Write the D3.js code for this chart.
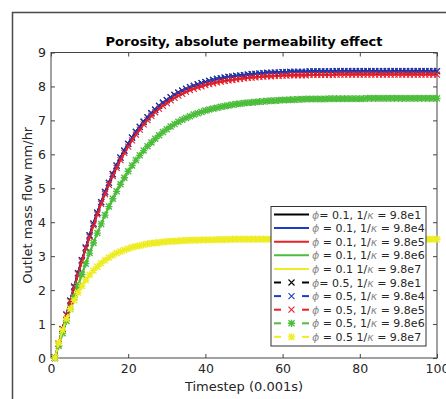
<!DOCTYPE html>
<html>
<head>
<meta charset="utf-8">
<script src="https://cdn.jsdelivr.net/npm/d3@7"></script>
<style>
  body { margin: 0; background: #fff; }
  svg { display: block; font-family: "DejaVu Sans", sans-serif; }
</style>
</head>
<body>
<svg id="chart" width="446" height="399"></svg>
<script>
// timesteps 1..100 (x values)
const timesteps = d3.range(1, 101);

// outlet mass flow, one value per timestep
const flowK1 = [
  0, 0.43, 0.85, 1.28, 1.69, 2.10, 2.50, 2.88, 3.25, 3.61,
  3.96, 4.28, 4.59, 4.89, 5.16, 5.42, 5.67, 5.90, 6.11, 6.31,
  6.49, 6.66, 6.81, 6.96, 7.09, 7.21, 7.32, 7.43, 7.52, 7.60,
  7.68, 7.75, 7.82, 7.88, 7.93, 7.98, 8.02, 8.06, 8.10, 8.13,
  8.16, 8.19, 8.22, 8.24, 8.26, 8.28, 8.29, 8.31, 8.32, 8.33,
  8.35, 8.36, 8.37, 8.38, 8.39, 8.40, 8.40, 8.41, 8.41, 8.42,
  8.42, 8.43, 8.43, 8.43, 8.43, 8.43, 8.44, 8.44, 8.44, 8.44,
  8.44, 8.44, 8.44, 8.45, 8.45, 8.45, 8.45, 8.45, 8.45, 8.45,
  8.45, 8.45, 8.45, 8.45, 8.45, 8.45, 8.45, 8.45, 8.45, 8.45,
  8.45, 8.45, 8.45, 8.45, 8.45, 8.45, 8.45, 8.45, 8.45, 8.45
];
const flowK4 = flowK1;
const flowK5 = [
  0, 0.42, 0.84, 1.26, 1.67, 2.07, 2.47, 2.85, 3.22, 3.57,
  3.91, 4.23, 4.54, 4.83, 5.10, 5.36, 5.60, 5.83, 6.04, 6.23,
  6.41, 6.58, 6.73, 6.88, 7.01, 7.13, 7.24, 7.34, 7.43, 7.51,
  7.59, 7.66, 7.73, 7.78, 7.84, 7.89, 7.93, 7.97, 8.00, 8.04,
  8.07, 8.09, 8.12, 8.14, 8.16, 8.18, 8.19, 8.21, 8.22, 8.24,
  8.25, 8.26, 8.27, 8.28, 8.29, 8.30, 8.30, 8.31, 8.31, 8.32,
  8.32, 8.33, 8.33, 8.33, 8.33, 8.33, 8.34, 8.34, 8.34, 8.34,
  8.34, 8.34, 8.34, 8.35, 8.35, 8.35, 8.35, 8.35, 8.35, 8.35,
  8.35, 8.35, 8.35, 8.35, 8.35, 8.35, 8.35, 8.35, 8.35, 8.35,
  8.35, 8.35, 8.35, 8.35, 8.35, 8.35, 8.35, 8.35, 8.35, 8.35
];
const flowK6 = [
  0, 0.36, 0.73, 1.09, 1.44, 1.79, 2.13, 2.46, 2.78, 3.09,
  3.39, 3.68, 3.95, 4.21, 4.46, 4.69, 4.91, 5.12, 5.31, 5.50,
  5.67, 5.83, 5.97, 6.11, 6.24, 6.35, 6.46, 6.56, 6.66, 6.74,
  6.82, 6.89, 6.96, 7.02, 7.07, 7.12, 7.17, 7.21, 7.25, 7.29,
  7.32, 7.35, 7.37, 7.40, 7.42, 7.44, 7.46, 7.48, 7.49, 7.51,
  7.52, 7.53, 7.54, 7.55, 7.56, 7.57, 7.58, 7.58, 7.59, 7.60,
  7.60, 7.61, 7.61, 7.62, 7.62, 7.63, 7.63, 7.63, 7.63, 7.63,
  7.63, 7.64, 7.64, 7.64, 7.64, 7.64, 7.64, 7.64, 7.64, 7.64,
  7.64, 7.65, 7.65, 7.65, 7.65, 7.65, 7.65, 7.65, 7.65, 7.65,
  7.65, 7.65, 7.65, 7.65, 7.65, 7.65, 7.65, 7.65, 7.65, 7.65
];
const flowK7 = [
  0, 0.44, 0.82, 1.15, 1.45, 1.70, 1.93, 2.12, 2.30, 2.45,
  2.58, 2.69, 2.79, 2.88, 2.96, 3.03, 3.09, 3.14, 3.18, 3.22,
  3.26, 3.29, 3.31, 3.34, 3.36, 3.38, 3.39, 3.40, 3.42, 3.43,
  3.44, 3.44, 3.45, 3.46, 3.46, 3.47, 3.47, 3.47, 3.48, 3.48,
  3.48, 3.48, 3.49, 3.49, 3.49, 3.49, 3.50, 3.50, 3.50, 3.50,
  3.50, 3.50, 3.50, 3.50, 3.50, 3.50, 3.50, 3.50, 3.50, 3.50,
  3.50, 3.50, 3.50, 3.50, 3.50, 3.50, 3.50, 3.50, 3.50, 3.50,
  3.50, 3.50, 3.50, 3.50, 3.50, 3.50, 3.50, 3.50, 3.50, 3.50,
  3.50, 3.50, 3.50, 3.50, 3.50, 3.50, 3.50, 3.50, 3.50, 3.50,
  3.50, 3.50, 3.50, 3.50, 3.50, 3.50, 3.50, 3.50, 3.50, 3.50
];

const xTicks = [0, 20, 40, 60, 80, 100];
const yTicks = [0, 1, 2, 3, 4, 5, 6, 7, 8, 9];
const porosities = ["0.1", "0.1", "0.1", "0.1", "0.1", "0.5", "0.5", "0.5", "0.5", "0.5"];
const invPerm = ["9.8e1", "9.8e4", "9.8e5", "9.8e6", "9.8e7", "9.8e1", "9.8e4", "9.8e5", "9.8e6", "9.8e7"];
const seriesValues = [flowK1, flowK4, flowK5, flowK6, flowK7, flowK1, flowK4, flowK5, flowK6, flowK7];

const colors = ["#000000", "#1d3cc4", "#e8202a", "#4dbd3c", "#eeec22"];
const textColor = "#262626";

const svg = d3.select("#chart");
svg.append("rect").attr("width", 446).attr("height", 399).attr("fill", "#fff");

// figure frame (cropped screenshot border)
svg.append("path")
  .attr("d", "M12.5,399V12.5H446")
  .attr("fill", "none")
  .attr("stroke", "#4a4a4a")
  .attr("stroke-width", 1.5);

const plotLeft = 51, plotRight = 437, plotTop = 52.5, plotBottom = 358;
const x = d3.scaleLinear().domain([0, 100]).range([plotLeft, plotRight]);
const y = d3.scaleLinear().domain([0, 9]).range([plotBottom, plotTop]);

// axes, MATLAB style ticks pointing inward
const axisStyle = g => {
  g.select(".domain").remove();
  g.selectAll("line").attr("stroke", "#444");
  g.selectAll("text").attr("fill", textColor).attr("font-size", 12.5)
    .attr("font-family", "DejaVu Sans, sans-serif");
};
svg.append("g")
  .attr("transform", "translate(0," + plotBottom + ")")
  .call(d3.axisBottom(x).tickValues(xTicks).tickSizeInner(-4).tickSizeOuter(0).tickPadding(6))
  .call(axisStyle);
svg.append("g")
  .attr("transform", "translate(0," + plotTop + ")")
  .call(d3.axisTop(x).tickValues(xTicks).tickSizeInner(-4).tickSizeOuter(0).tickFormat(""))
  .call(axisStyle);
svg.append("g")
  .attr("transform", "translate(" + plotLeft + ",0)")
  .call(d3.axisLeft(y).tickValues(yTicks).tickSizeInner(-4).tickSizeOuter(0).tickPadding(5))
  .call(axisStyle);
svg.append("g")
  .attr("transform", "translate(" + plotRight + ",0)")
  .call(d3.axisRight(y).tickValues(yTicks).tickSizeInner(-4).tickSizeOuter(0).tickFormat(""))
  .call(axisStyle);

svg.append("rect")
  .attr("x", plotLeft).attr("y", plotTop)
  .attr("width", plotRight - plotLeft).attr("height", plotBottom - plotTop)
  .attr("fill", "none").attr("stroke", "#444").attr("stroke-width", 1);

// title and axis labels
svg.append("text")
  .attr("x", 244).attr("y", 45.5)
  .attr("text-anchor", "middle")
  .attr("font-size", 13).attr("font-weight", "bold")
  .attr("fill", "#000")
  .text("Porosity, absolute permeability effect");

svg.append("text")
  .attr("x", 244).attr("y", 391)
  .attr("text-anchor", "middle")
  .attr("font-size", 13).attr("fill", textColor)
  .text("Timestep (0.001s)");

svg.append("text")
  .attr("transform", "translate(32," + (plotTop + plotBottom) / 2 + ") rotate(-90)")
  .attr("text-anchor", "middle")
  .attr("font-size", 13).attr("fill", textColor)
  .text("Outlet mass flow mm/hr");

// series
const line = d3.line().x((d, i) => x(timesteps[i])).y(d => y(d));
const xMark = "M-3,-3L3,3M-3,3L3,-3";
const starMark = "M-3,-3L3,3M-3,3L3,-3M0,-3.6V3.6M-3.6,0H3.6";

const plot = svg.append("g");
seriesValues.forEach((vals, k) => {
  const col = colors[k % 5];
  const dashed = k >= 5;
  plot.append("path")
    .attr("d", line(vals))
    .attr("fill", "none")
    .attr("stroke", col)
    .attr("stroke-width", 2)
    .attr("stroke-dasharray", dashed ? "6,4" : null);
  if (dashed) {
    const star = k % 5 >= 3;
    plot.append("g").selectAll("path")
      .data(vals)
      .join("path")
      .attr("transform", (d, i) => "translate(" + x(timesteps[i]) + "," + y(d) + ")")
      .attr("d", star ? starMark : xMark)
      .attr("fill", "none")
      .attr("stroke", col)
      .attr("stroke-width", star ? 1.4 : 1.1);
  }
});

// legend
const lgX = 271, lgY = 206.5, lgW = 155, lgH = 139.5, rowH = 13.6;
const legend = svg.append("g");
legend.append("rect")
  .attr("x", lgX).attr("y", lgY).attr("width", lgW).attr("height", lgH)
  .attr("fill", "#fff").attr("stroke", "#333").attr("stroke-width", 1);

seriesValues.forEach((vals, k) => {
  const col = colors[k % 5];
  const cy = lgY + 8 + k * rowH;
  const g = legend.append("g");
  if (k < 5) {
    g.append("line").attr("x1", 274).attr("x2", 309).attr("y1", cy).attr("y2", cy)
      .attr("stroke", col).attr("stroke-width", 2);
  } else {
    [[274, 281], [302, 309]].forEach(s => g.append("line")
      .attr("x1", s[0]).attr("x2", s[1]).attr("y1", cy).attr("y2", cy)
      .attr("stroke", col).attr("stroke-width", 2));
    g.append("path")
      .attr("transform", "translate(291.5," + cy + ")")
      .attr("d", k % 5 >= 3 ? starMark : xMark)
      .attr("fill", "none").attr("stroke", col)
      .attr("stroke-width", k % 5 >= 3 ? 1.4 : 1.1);
  }
  const idx = k % 5;
  const t = g.append("text")
    .attr("x", 312).attr("y", cy + 4)
    .attr("font-size", 11).attr("fill", textColor);
  t.append("tspan").attr("font-style", "italic").attr("fill", "#8a8a8a").text("ϕ");
  const eq = idx === 0 ? "= " : " = ";
  const sep = idx === 4 ? " " : ", ";
  t.append("tspan").text(eq + porosities[k] + sep + "1/");
  t.append("tspan").attr("font-style", "italic").attr("fill", "#8a8a8a").text("κ");
  t.append("tspan").text(" = " + invPerm[k]);
});
</script>
</body>
</html>
